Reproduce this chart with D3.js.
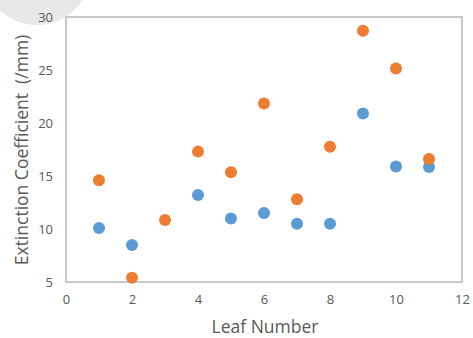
<!DOCTYPE html>
<html><head><meta charset="utf-8">
<script src="https://cdn.jsdelivr.net/npm/d3@7"></script>
<style>body{margin:0;background:#fff}svg{display:block}</style>
</head><body>
<script>
const leafNumbers = [1,2,3,4,5,6,7,8,9,10,11];
const blueValues = [10.1,8.5,null,13.2,11.0,11.5,10.5,10.5,20.9,15.9,15.85];
const orangeValues = [14.6,5.4,10.85,17.3,15.35,21.85,12.8,17.75,28.7,25.15,16.6];
const xTicks = [0,2,4,6,8,10,12];
const yTicks = [5,10,15,20,25,30];

const W=473,H=338;
const m={left:66,right:11,top:17,bottom:56};
const svg=d3.select("body").append("svg").attr("width",W).attr("height",H);
// background blob artifact
svg.append("circle").attr("cx",37).attr("cy",-29).attr("r",54).attr("fill","#e8e8e8");

const x=d3.scaleLinear().domain([0,12]).range([m.left,W-m.right]);
const y=d3.scaleLinear().domain([5,30]).range([H-m.bottom,m.top]);

svg.append("rect").attr("x",x(0)).attr("y",y(30)).attr("width",x(12)-x(0)).attr("height",y(5)-y(30))
  .attr("fill","none").attr("stroke","#c9c9c9").attr("stroke-width",2);

const gx=svg.append("g").attr("transform",`translate(0,${y(5)})`)
  .call(d3.axisBottom(x).tickValues(xTicks).tickSize(0).tickPadding(13));
gx.select(".domain").remove();
const gy=svg.append("g").attr("transform",`translate(${x(0)},0)`)
  .call(d3.axisLeft(y).tickValues(yTicks).tickSize(0).tickPadding(13));
gy.select(".domain").remove();
svg.selectAll(".tick text").attr("fill","#595959").attr("font-family","Open Sans, sans-serif").attr("font-size",13);

const blue=leafNumbers.map((l,i)=>({x:l,y:blueValues[i]})).filter(d=>d.y!=null);
const orange=leafNumbers.map((l,i)=>({x:l,y:orangeValues[i]}));
svg.append("g").selectAll("circle").data(blue).join("circle")
  .attr("cx",d=>x(d.x)).attr("cy",d=>y(d.y)).attr("r",6).attr("fill","#5B9BD5");
svg.append("g").selectAll("circle").data(orange).join("circle")
  .attr("cx",d=>x(d.x)).attr("cy",d=>y(d.y)).attr("r",6).attr("fill","#ED7D31");

svg.append("text").attr("x",265).attr("y",333).attr("text-anchor","middle")
  .attr("fill","#595959").attr("font-family","Open Sans, sans-serif").attr("font-size",17.5).text("Leaf Number");
svg.append("text").attr("transform",`translate(28,150) rotate(-90)`).attr("text-anchor","middle")
  .attr("fill","#595959").attr("font-family","Open Sans, sans-serif").attr("font-size",17.5)
  .style("white-space","pre").text("Extinction Coefficient  (/mm)");
</script>
</body></html>
